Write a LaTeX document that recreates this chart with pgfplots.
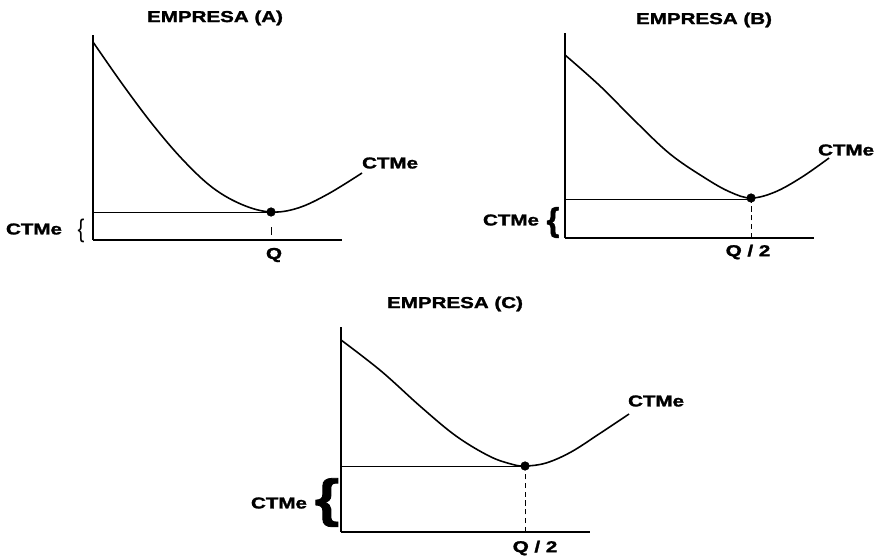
\documentclass[border=0pt]{standalone}
\usepackage{fontspec}
\setmainfont{Liberation Sans}[BoldFeatures={FakeBold=1.5}]
\usepackage{pgfplots}
\pgfplotsset{compat=1.18}

\pgfplotsset{
  cost panel/.style={
      x=0.02cm, y=0.02cm,
      xmin=0, xmax=249,
      ymin=0, ymax=205,
      axis lines=left,
      axis line style={-, line width=1.1pt},
      xtick=\empty, ytick=\empty,
      clip=false,
      anchor=south west,
    },
  cost curve/.style={black, line width=0.9pt, smooth, tension=0.6},
  min line/.style={black, line width=0.55pt},
  min dot/.style={only marks, mark=*, mark size=2.4pt, black},
}
\tikzset{
  lbl/.style={font=\bfseries\fontsize{9}{10}\selectfont, xscale=1.3, inner sep=0pt},
  brace/.style={inner sep=0pt, anchor=base},
}

\begin{document}
\begin{tikzpicture}
  % fixed canvas, 882 x 558 px at 0.02 cm per px
  \path (0,0) rectangle (17.64cm,-11.16cm);

  % ------------------------------------------------------------------
  % EMPRESA (A)
  % ------------------------------------------------------------------
  \begin{axis}[cost panel, at={(1.86cm,-4.80cm)}]
    \addplot[cost curve] coordinates {
        (0,198) (30,155) (60,115) (90,80) (120,52) (150,35)
        (178,28) (205,32) (235,46) (269,67)
      };
    \addplot[min line] coordinates {(0,28) (178,28)};
    \addplot[min line] coordinates {(178,5) (178,13)};
    \addplot[min dot] coordinates {(178,28)};

    \node[lbl] at (axis cs:122,222) {EMPRESA (A)};
    \node[lbl] at (axis cs:297,77) {CTMe};
    \node[lbl] at (axis cs:181,-15) {Q};
    \node[lbl] at (axis cs:-59,11) {CTMe};
    \node[brace, font=\fontsize{14.5}{15}\selectfont, xscale=0.8] at (axis cs:-12,3) {\{};
  \end{axis}

  % ------------------------------------------------------------------
  % EMPRESA (B)
  % ------------------------------------------------------------------
  \begin{axis}[cost panel, at={(11.30cm,-4.76cm)}]
    \addplot[cost curve] coordinates {
        (0,183) (35,152) (70,117) (105,84) (140,60) (165,46)
        (186,40) (210,46) (237,61) (264,80)
      };
    \addplot[min line] coordinates {(0,39) (186,39)};
    \addplot[min line, densely dashed] coordinates {(186,0) (186,36)};
    \addplot[min dot] coordinates {(186,40)};

    \node[lbl] at (axis cs:139,218) {EMPRESA (B)};
    \node[lbl] at (axis cs:281,88) {CTMe};
    \node[lbl] at (axis cs:183,-14) {Q / 2};
    \node[lbl] at (axis cs:-54,18) {CTMe};
    \node[brace, font=\bfseries\fontsize{18.7}{19}\selectfont] at (axis cs:-12,7) {\{};
  \end{axis}

  % ------------------------------------------------------------------
  % EMPRESA (C)
  % ------------------------------------------------------------------
  \begin{axis}[cost panel, at={(6.82cm,-10.64cm)}]
    \addplot[cost curve] coordinates {
        (0,192) (40,161) (80,125) (115,96) (148,76) (170,68)
        (184,66) (205,69) (230,80) (258,98) (288,118)
      };
    \addplot[min line] coordinates {(0,66) (184,66)};
    \addplot[min line, densely dashed] coordinates {(184,0) (184,60)};
    \addplot[min dot] coordinates {(184,66)};

    \node[lbl] at (axis cs:114,228) {EMPRESA (C)};
    \node[lbl] at (axis cs:315,131) {CTMe};
    \node[lbl] at (axis cs:194,-16) {Q / 2};
    \node[lbl] at (axis cs:-62,29) {CTMe};
    \node[brace, font=\bfseries\fontsize{29.6}{30}\selectfont, xscale=1.2] at (axis cs:-14,16) {\{};
  \end{axis}
\end{tikzpicture}
\end{document}
